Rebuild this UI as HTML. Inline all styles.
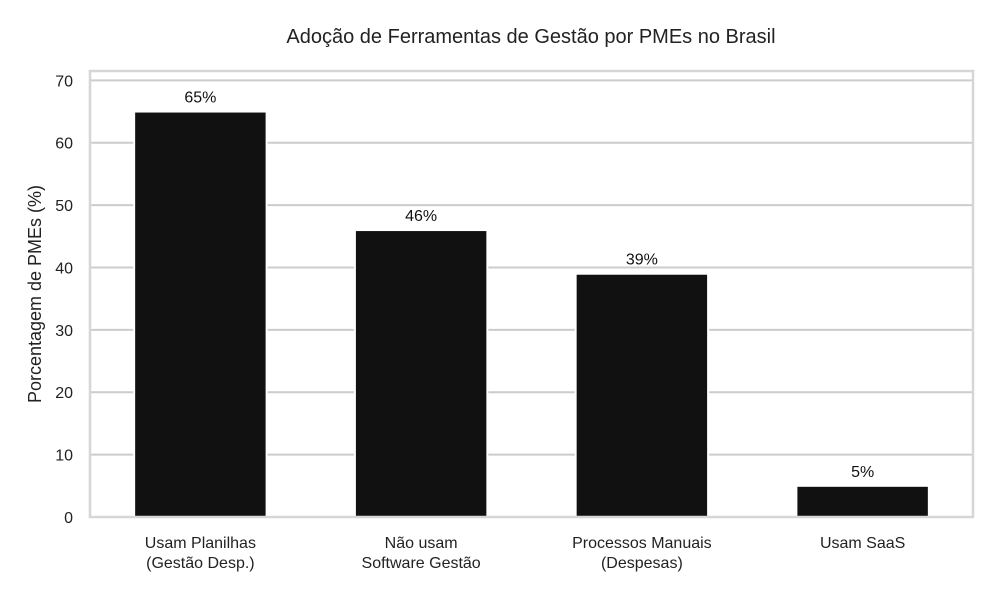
<!DOCTYPE html>
<html><head><meta charset="utf-8"><style>
body{margin:0;background:#fff}
text{font-family:"Liberation Sans","DejaVu Sans",sans-serif}
</style></head><body>
<svg id="c" width="1000" height="600" xmlns="http://www.w3.org/2000/svg"></svg>
<script>
const categories=[["Usam Planilhas","(Gestão Desp.)"],["Não usam","Software Gestão"],["Processos Manuais","(Despesas)"],["Usam SaaS"]];
const values=[65,46,39,5];
const valueLabels=["65%","46%","39%","5%"];
const yTicks=[0,10,20,30,40,50,60,70];
const svg=document.getElementById('c');const NS='http://www.w3.org/2000/svg';
const L=90,R=973,T=71,B=517,yMax=71.5;
const y=v=>B-(v/yMax)*(B-T);
const band=(R-L)/categories.length;
const x=i=>L+band*(i+0.5);
function el(t,a,p){const e=document.createElementNS(NS,t);for(const k in a)e.setAttribute(k,a[k]);(p||svg).appendChild(e);return e;}
let t=el('text',{x:531,y:43,'text-anchor':'middle','font-size':20,fill:'#222'});t.textContent='Adoção de Ferramentas de Gestão por PMEs no Brasil';

yTicks.forEach(v=>{
 const g=el('line',{x1:L,x2:R,y1:y(v),y2:y(v),stroke:'#cccccc','stroke-width':2});
 
 const l=el('text',{x:73,y:y(v)+6,'text-anchor':'end','font-size':16,fill:'#222'});l.textContent=v;
 
});
const bw=band*0.6;
values.forEach((v,i)=>{
 const r=el('rect',{x:x(i)-bw/2,y:y(v),width:bw,height:B-y(v),fill:'#111111',stroke:'#ffffff','stroke-width':2});
 
 const l=el('text',{x:x(i),y:y(v)-9,'text-anchor':'middle','font-size':16,fill:'#111'});l.textContent=valueLabels[i];
 
 categories[i].forEach((s,j)=>{
  const c=el('text',{x:x(i),y:548+j*20,'text-anchor':'middle','font-size':16,fill:'#222'});c.textContent=s;
  
 });
});
const f=el('rect',{x:L,y:T,width:R-L,height:B-T,fill:'none',stroke:'#d6d6d6','stroke-width':2.5});

const yl=el('text',{x:0,y:0,'text-anchor':'middle','font-size':18,fill:'#222',transform:'translate(41,294) rotate(-90)'});yl.textContent='Porcentagem de PMEs (%)';

</script>
</body></html>
